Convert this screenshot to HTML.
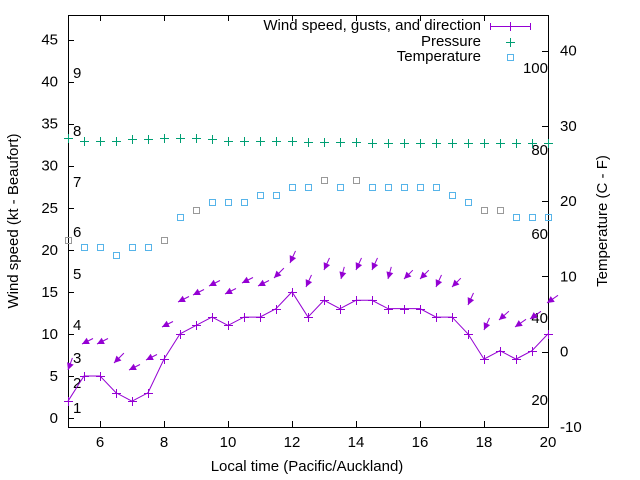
<!DOCTYPE html>
<html><head><meta charset="utf-8"><style>body{margin:0;background:#fff}svg{display:block}text{font-family:"Liberation Sans",sans-serif;font-size:15px;fill:#000}.c{shape-rendering:crispEdges}</style></head>
<body>
<svg id="s" width="640" height="480" xmlns="http://www.w3.org/2000/svg">
<rect x="0" y="0" width="640" height="480" fill="#fff"/>
<g id="g"></g>
</svg>
<script>
const g=document.getElementById('g');
let h='';
const X=t=>68+(t-5)*32, Y=v=>418-v*8.41, YR=c=>427-(c+10)*7.53;
const R=v=>Math.round(v)+0.5;
h+='<rect class="c" x="68.5" y="15.5" width="480" height="412" fill="none" stroke="#000" stroke-width="1"/>';
for(let v=0;v<=45;v+=5){const y=Y(v);h+=`<line class="c" x1="68" y1="${R(y)}" x2="74" y2="${R(y)}" stroke="#000"/><text x="58" y="${y+5}" text-anchor="end">${v}</text>`;}
for(let t=6;t<=20;t+=2){const x=X(t);h+=`<line class="c" x1="${x+.5}" y1="427" x2="${x+.5}" y2="421" stroke="#000"/><line class="c" x1="${x+.5}" y1="15" x2="${x+.5}" y2="21" stroke="#000"/><text x="${x}" y="447" text-anchor="middle">${t}</text>`;}
for(let c=-10;c<=40;c+=10){const y=YR(c);h+=`<line class="c" x1="548" y1="${R(y)}" x2="542" y2="${R(y)}" stroke="#000"/><text x="560" y="${y+5}">${c}</text>`;}
[[20,400],[40,318],[60,234],[80,150],[100,68]].forEach(([f,y])=>{h+=`<text x="548" y="${y+5}" text-anchor="end">${f}</text>`;});
[[1,408],[2,383],[3,358],[4,325],[5,274],[6,232],[7,182],[8,131],[9,73]].forEach(([b,y])=>{h+=`<text x="73" y="${y+5}">${b}</text>`;});
h+='<text x="307" y="471" text-anchor="middle">Local time (Pacific/Auckland)</text>';
h+='<text transform="translate(18,221) rotate(-90)" text-anchor="middle">Wind speed (kt - Beaufort)</text>';
h+='<text transform="translate(607,221) rotate(-90)" text-anchor="middle">Temperature (C - F)</text>';
h+='<text x="481" y="30" text-anchor="end">Wind speed, gusts, and direction</text><text x="481" y="46" text-anchor="end">Pressure</text><text x="481" y="61" text-anchor="end">Temperature</text>';
h+='<path class="c" d="M490 26.5H531M490.5 23v7M530.5 23v7M510.5 22v9M506 26.5h9" stroke="#9400d3" fill="none"/>';
h+='<path class="c" d="M510.5 38v9M506 42.5h9" stroke="#009e73"/><rect class="c" x="507.5" y="54.5" width="6" height="6" fill="none" stroke="#56b4e9"/>';
const w=[2,5,5,3,2,3,7,10,11,12,11,12,12,13,15,12,14,13,14,14,13,13,13,12,12,10,7,8,7,8,10];
let pts=w.map((v,i)=>`${X(5+i/2)},${Y(v)}`).join(' ');
h+=`<polyline points="${pts}" fill="none" stroke="#9400d3"/>`;
w.forEach((v,i)=>{const x=X(5+i/2)+.5,y=R(Y(v));h+=`<path class="c" d="M${x-4.5} ${y}h9M${x} ${y-4.5}v9" stroke="#9400d3"/>`;});
const ar=[[68,370,4,-11],[82,344,10,-5],[97,344,10,-5],[114,363,9,-9],[129,370,10,-5],[146,360,10,-5],[162,327,10,-5],[178,302,10,-5],[193,295,10,-5],[209,286,10,-5],[225,294,10,-5],[242,283,10,-5],[258,286,10,-5],[274,278,9,-9],[290,263,5,-11],[306,287,5,-11],[324,270,5,-11],[341,279,3,-11],[356,270,5,-11],[372,270,5,-11],[388,279,3,-11],[404,279,8,-8],[420,279,8,-8],[436,287,5,-11],[452,287,8,-8],[468,305,5,-11],[484,330,5,-11],[499,320,9,-8],[515,327,10,-7],[530,319,10,-7],[547,303,10,-7]];
ar.forEach(([x,y,dx,dy])=>{const L=Math.hypot(dx,dy),ux=dx/L,uy=dy/L,px=-uy,py=ux;
const bx=x+ux*7,by=y+uy*7;
h+=`<line x1="${x}" y1="${y}" x2="${x+dx*1.1}" y2="${y+dy*1.1}" stroke="#9400d3"/><polygon points="${x},${y} ${bx+px*3.5},${by+py*3.5} ${bx-px*3.5},${by-py*3.5}" fill="#9400d3"/>`;});
const p=[138,141,141,141,139,139,138,138,138,139,141,141,141,141,141,142,142,142,142,143,143,143,143,143,143,143,143,143,143,143,143];
p.forEach((y,i)=>{const x=X(5+i/2)+.5;h+=`<path class="c" d="M${x-4.5} ${y+.5}h9M${x} ${y-4}v9" stroke="#009e73"/>`;});
const T=[240,247,247,255,247,247,240,217,210,202,202,202,195,195,187,187,180,187,180,187,187,187,187,187,195,202,210,210,217,217,217];
const gray=[0,6,8,16,18,26,27];
T.forEach((y,i)=>{const x=X(5+i/2);h+=`<rect class="c" x="${x-2.5}" y="${y-2.5}" width="6" height="6" fill="none" stroke="${gray.includes(i)?'#999':'#56b4e9'}"/>`;});
g.innerHTML=h;
</script>
</body></html>
